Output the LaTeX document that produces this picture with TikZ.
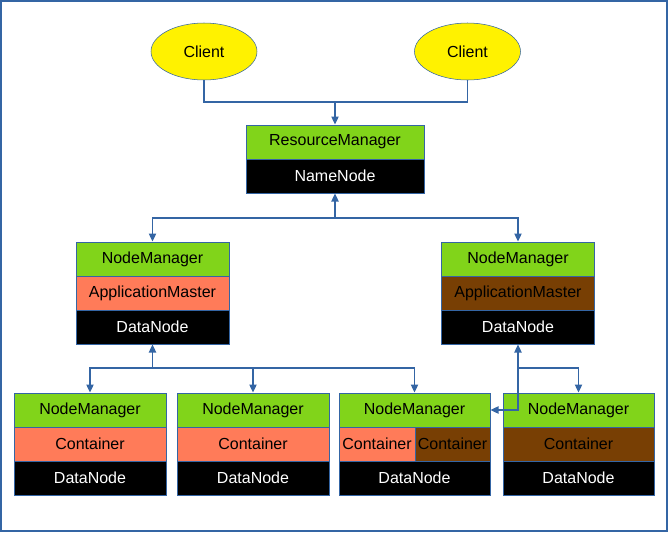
\documentclass[tikz,border=0pt]{standalone}
\usepackage{fontspec}
\setmainfont{Liberation Sans}
\usetikzlibrary{shapes.geometric,arrows.meta}

\definecolor{frameblue}{HTML}{3465A4}
\definecolor{mgrgreen}{HTML}{81D41A}
\definecolor{runred}{HTML}{FF7B59}
\definecolor{runbrown}{HTML}{783F04}

\begin{document}
\begin{tikzpicture}[x=0.75pt,y=-0.75pt,
        font=\fontsize{12}{14}\selectfont,
        client/.style={ellipse, draw=frameblue, fill=yellow, minimum width=79.5pt, minimum height=42.75pt, inner sep=0pt},
        row/.style={rectangle, draw=frameblue, line width=0.75pt, minimum height=25.5pt, inner sep=0pt},
        mgr/.style={row, fill=mgrgreen},
        redrow/.style={row, fill=runred},
        brownrow/.style={row, fill=runbrown},
        datarow/.style={row, fill=black, text=white},
        link/.style={draw=frameblue, line width=0.9pt},
        tip/.tip={Triangle[length=6pt,width=5.5pt]}]
        \useasboundingbox (0,0) rectangle (669,533);
        \draw[frameblue, line width=0.9pt] (1,1) rectangle (667,531);

        \node[client] (cl1) at (204,51.5) {Client};
        \node[client] (cl2) at (467.5,51.5) {Client};

        \node[mgr, minimum width=133.5pt] (rmtop) at (335,142) {ResourceManager};
        \node[datarow, minimum width=133.5pt] (rmbot) at (335,176) {NameNode};

        \node[mgr, minimum width=114.75pt] (nm1top) at (152.5,259) {NodeManager};
        \node[redrow, minimum width=114.75pt] (nm1mid) at (152.5,293) {ApplicationMaster};
        \node[datarow, minimum width=114.75pt] (nm1bot) at (152.5,327) {DataNode};

        \node[mgr, minimum width=114.75pt] (nm2top) at (518,259) {NodeManager};
        \node[brownrow, minimum width=114.75pt] (nm2mid) at (518,293) {ApplicationMaster};
        \node[datarow, minimum width=114.75pt] (nm2bot) at (518,327) {DataNode};

        \node[mgr, minimum width=114pt] (w1top) at (90,410) {NodeManager};
        \node[redrow, minimum width=114pt] (w1mid) at (90,444) {Container};
        \node[datarow, minimum width=114pt] (w1bot) at (90,478) {DataNode};

        \node[mgr, minimum width=114pt] (w2top) at (253,410) {NodeManager};
        \node[redrow, minimum width=114pt] (w2mid) at (253,444) {Container};
        \node[datarow, minimum width=114pt] (w2bot) at (253,478) {DataNode};

        \node[mgr, minimum width=113.25pt] (w3top) at (414.5,410) {NodeManager};
        \node[redrow, minimum width=57pt] (w3left) at (377,444) {Container};
        \node[brownrow, minimum width=56.25pt] (w3right) at (452.5,444) {Container};
        \node[datarow, minimum width=113.25pt] (w3bot) at (414.5,478) {DataNode};

        \node[mgr, minimum width=113.25pt] (w4top) at (578.5,410) {NodeManager};
        \node[brownrow, minimum width=113.25pt] (w4mid) at (578.5,444) {Container};
        \node[datarow, minimum width=113.25pt] (w4bot) at (578.5,478) {DataNode};

        \coordinate (join1) at (335,102);
        \coordinate (join2) at (335,218);
        \coordinate (join3) at (152.5,368);
        \coordinate (join4) at (518,368);

        \draw[link] (cl1.south) |- (join1);
        \draw[link] (cl2.south) |- (join1);
        \draw[link, -tip] (join1) -- (rmtop.north);

        \draw[link, tip-] (rmbot.south) -- (join2);
        \draw[link, -tip] (join2) -| (nm1top.north);
        \draw[link, -tip] (join2) -| (nm2top.north);

        \draw[link, tip-] (nm1bot.south) -- (join3);
        \draw[link, -tip] (join3) -| (w1top.north);
        \draw[link, -tip] (join3) -| (w2top.north);
        \draw[link, -tip] (join3) -| (w3top.north);

        \draw[link, tip-] (nm2bot.south) -- (join4);
        \draw[link, -tip] (join4) -| (w4top.north);
        \draw[link, -tip] (join4) |- (w3top.east);
\end{tikzpicture}
\end{document}
